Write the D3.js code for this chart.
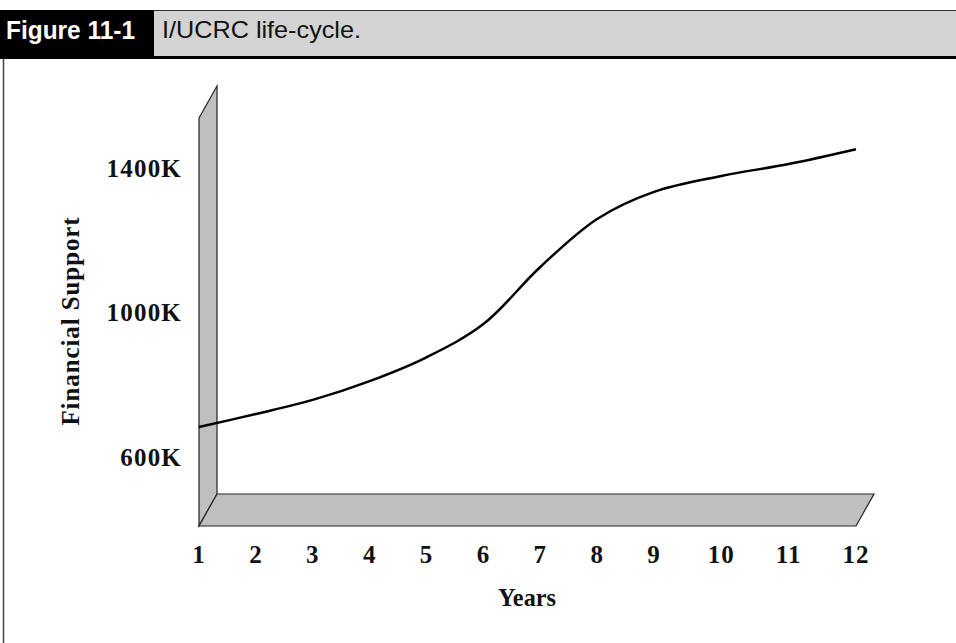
<!DOCTYPE html>
<html>
<head>
<meta charset="utf-8">
<script src="https://cdn.jsdelivr.net/npm/d3@7"></script>
<style>
  html, body { margin: 0; padding: 0; background: #fff; }
  svg { display: block; }
</style>
</head>
<body>
<svg id="chart" width="956" height="643"></svg>
<script>
// ---- data ----
const years = [1, 2, 3, 4, 5, 6, 7, 8, 9, 10, 11, 12];
const support = [683, 719, 758, 810, 876, 968, 1126, 1259, 1334, 1378, 1411, 1452];
const yTicks = [600, 1000, 1400];
const yTickLabels = ["600K", "1000K", "1400K"];
const xTickLabels = ["1", "2", "3", "4", "5", "6", "7", "8", "9", "10", "11", "12"];
const figureLabel = "Figure 11-1";
const captionText = "I/UCRC life-cycle.";
const yTitle = "Financial Support";
const xTitle = "Years";

// ---- layout ----
const W = 956, H = 643;
const svg = d3.select("#chart");

const x = d3.scaleLinear().domain([1, 9, 12]).range([199, 654, 856]);
const y = d3.scaleLinear().domain([600, 1400]).range([457, 168]);

const serif = "'Liberation Serif', 'Times New Roman', serif";
const narrow = "'Liberation Sans Narrow', 'Arial Narrow', 'Liberation Sans', Arial, sans-serif";

// header
svg.append("rect").attr("x", 0).attr("y", 10.5).attr("width", W).attr("height", 46)
  .attr("fill", "#d3d3d3");
svg.append("line").attr("x1", 0).attr("x2", W).attr("y1", 10.5).attr("y2", 10.5)
  .attr("stroke", "#333").attr("stroke-width", 1);
svg.append("rect").attr("x", 0).attr("y", 10).attr("width", 154).attr("height", 47)
  .attr("fill", "#000");
svg.append("rect").attr("x", 0).attr("y", 56).attr("width", W).attr("height", 3)
  .attr("fill", "#000");
svg.append("text").attr("x", 6).attr("y", 38.5)
  .attr("font-family", narrow).attr("font-weight", "bold").attr("font-size", 26)
  .attr("fill", "#fff").attr("textLength", 129).attr("lengthAdjust", "spacingAndGlyphs")
  .text(figureLabel);
svg.append("text").attr("x", 162).attr("y", 38)
  .attr("font-family", narrow).attr("font-size", 24)
  .attr("fill", "#111").attr("textLength", 199).attr("lengthAdjust", "spacingAndGlyphs")
  .text(captionText);

// frame left line
svg.append("line").attr("x1", 3.5).attr("x2", 3.5).attr("y1", 59).attr("y2", H)
  .attr("stroke", "#444").attr("stroke-width", 1.5);

// 3D wall and floor
const dx = 18, dy = -32;
const x0 = x(1), x1 = x(12);
const floorY = 526, wallTop = 118;
const wall = [[x0, wallTop], [x0 + dx, wallTop + dy], [x0 + dx, floorY + dy], [x0, floorY]];
const floor = [[x0, floorY], [x0 + dx, floorY + dy], [x1 + dx, floorY + dy], [x1, floorY]];
const poly = d3.line();
svg.append("path").attr("d", poly(wall) + "Z")
  .attr("fill", "#bfbfbf").attr("stroke", "#222").attr("stroke-width", 1.2);
svg.append("path").attr("d", poly(floor) + "Z")
  .attr("fill", "#bfbfbf").attr("stroke", "#222").attr("stroke-width", 1.2);

// curve
const line = d3.line()
  .x((d, i) => x(years[i]))
  .y(d => y(d))
  .curve(d3.curveCatmullRom.alpha(0.5));
svg.append("path").datum(support).attr("d", line)
  .attr("fill", "none").attr("stroke", "#000").attr("stroke-width", 2.5);

// y tick labels
svg.append("g").selectAll("text").data(yTicks).join("text")
  .attr("x", 182).attr("y", d => y(d) + 8.5)
  .attr("text-anchor", "end")
  .attr("font-family", serif).attr("font-weight", "bold").attr("font-size", 25)
  .attr("letter-spacing", 1.2)
  .attr("fill", "#111")
  .text((d, i) => yTickLabels[i]);

// x tick labels
svg.append("g").selectAll("text").data(years).join("text")
  .attr("x", d => x(d)).attr("y", 563)
  .attr("text-anchor", "middle")
  .attr("font-family", serif).attr("font-weight", "bold").attr("font-size", 25)
  .attr("letter-spacing", 1)
  .attr("fill", "#111")
  .text((d, i) => xTickLabels[i]);

// axis titles
svg.append("text")
  .attr("transform", "translate(79,321) rotate(-90)")
  .attr("text-anchor", "middle")
  .attr("font-family", serif).attr("font-weight", "bold").attr("font-size", 25)
  .attr("letter-spacing", 0.9)
  .attr("fill", "#111")
  .text(yTitle);
svg.append("text")
  .attr("x", 527).attr("y", 606)
  .attr("text-anchor", "middle")
  .attr("font-family", serif).attr("font-weight", "bold").attr("font-size", 26)
  .attr("textLength", 58).attr("lengthAdjust", "spacingAndGlyphs")
  .attr("fill", "#111")
  .text(xTitle);
</script>
</body>
</html>
